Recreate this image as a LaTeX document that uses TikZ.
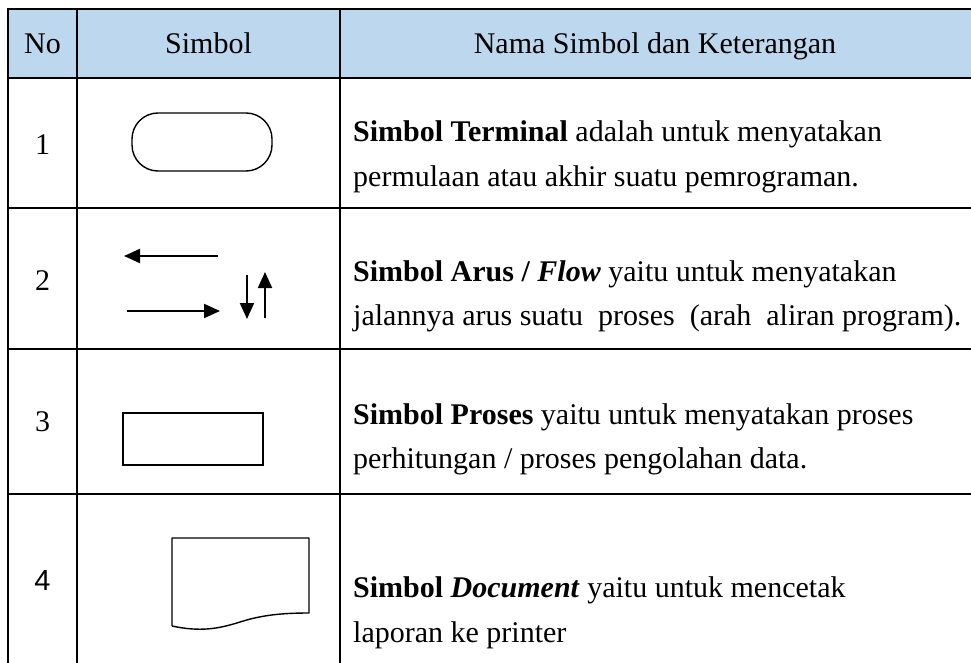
\documentclass[tikz,border=0pt]{standalone}
\usepackage{fontspec}
\setmainfont{Liberation Serif}
\newfontfamily\arialfont{Liberation Sans}
\usetikzlibrary{arrows.meta}
\definecolor{headblue}{RGB}{189,215,238}

\begin{document}
\begin{tikzpicture}[x=1pt,y=-1pt,
  grid/.style={line width=2.5pt},
  outline/.style={draw,line width=1.4pt},
  flow/.style={line width=2.1pt,-{Triangle[length=16pt,width=14pt]}},
  txt/.style={anchor=base west,inner sep=0pt,font=\fontsize{30}{36}\selectfont},
  cell/.style={anchor=base,inner sep=0pt,font=\fontsize{30}{36}\selectfont}]
\useasboundingbox (0,0) rectangle (971,663);

% header background
\fill[headblue] (8,9) rectangle (971,78);

% table rules
\draw[grid] (8,9) -- (971,9);
\draw[grid] (8,78) -- (971,78);
\draw[grid] (8,208) -- (971,208);
\draw[grid] (8,349) -- (971,349);
\draw[grid] (8,494) -- (971,494);
\draw[grid] (8,7.75) -- (8,670);
\draw[grid] (77,9) -- (77,670);
\draw[grid] (340,9) -- (340,670);

% header
\node[cell] (hno) at (42.5,54) {No};
\node[cell] (hsym) at (208.5,54) {Simbol};
\node[cell] (hname) at (655,54) {Nama Simbol dan Keterangan};

% row numbers
\node[cell] (n1) at (42.5,155) {1};
\node[cell] (n2) at (42.5,290) {2};
\node[cell] (n3) at (42.5,431) {3};
\node[cell,font=\arialfont\fontsize{29}{35}\selectfont] (n4) at (42.5,590) {4};

% row 1: terminal
\node[outline,rounded corners=26pt,minimum width=140pt,minimum height=58pt,inner sep=0pt]
  (term) at (202,142) {};
\node[txt] (t1a) at (353,142) {\textbf{Simbol Terminal} adalah untuk menyatakan};
\node[txt] (t1b) at (353,186) {permulaan atau akhir suatu pemrograman.};

% row 2: flow arrows
\coordinate (la) at (218,256);
\coordinate (lb) at (124,256);
\coordinate (ra) at (127,311);
\coordinate (rb) at (220,311);
\coordinate (da) at (247,275);
\coordinate (db) at (247,319);
\coordinate (ua) at (265,318);
\coordinate (ub) at (265,272);
\draw[flow] (la) -- (lb);
\draw[flow] (ra) -- (rb);
\draw[flow] (da) -- (db);
\draw[flow] (ua) -- (ub);
\node[txt] (t2a) at (353,281) {\textbf{Simbol Arus / \textit{Flow}} yaitu untuk menyatakan};
\node[txt] (t2b) at (353,325) {jalannya arus suatu\ \ proses\ \ (arah\ \ aliran program).};

% row 3: process
\node[outline,minimum width=140pt,minimum height=52pt,inner sep=0pt]
  (proc) at (193,439) {};
\node[txt] (t3a) at (353,424) {\textbf{Simbol Proses} yaitu untuk menyatakan proses};
\node[txt] (t3b) at (353,468) {perhitungan / proses pengolahan data.};

% row 4: document
\draw[line width=1.4pt,line join=round]
  (172,626) -- (172,538) -- (309,538) -- (309,613)
  .. controls (282,613) and (262,615) .. (240,622)
  .. controls (218,629) and (200,632) .. (172,626);
\node[txt] (t4a) at (353,597) {\textbf{Simbol \textit{Document}} yaitu untuk mencetak};
\node[txt] (t4b) at (353,642) {laporan ke printer};
\end{tikzpicture}
\end{document}
